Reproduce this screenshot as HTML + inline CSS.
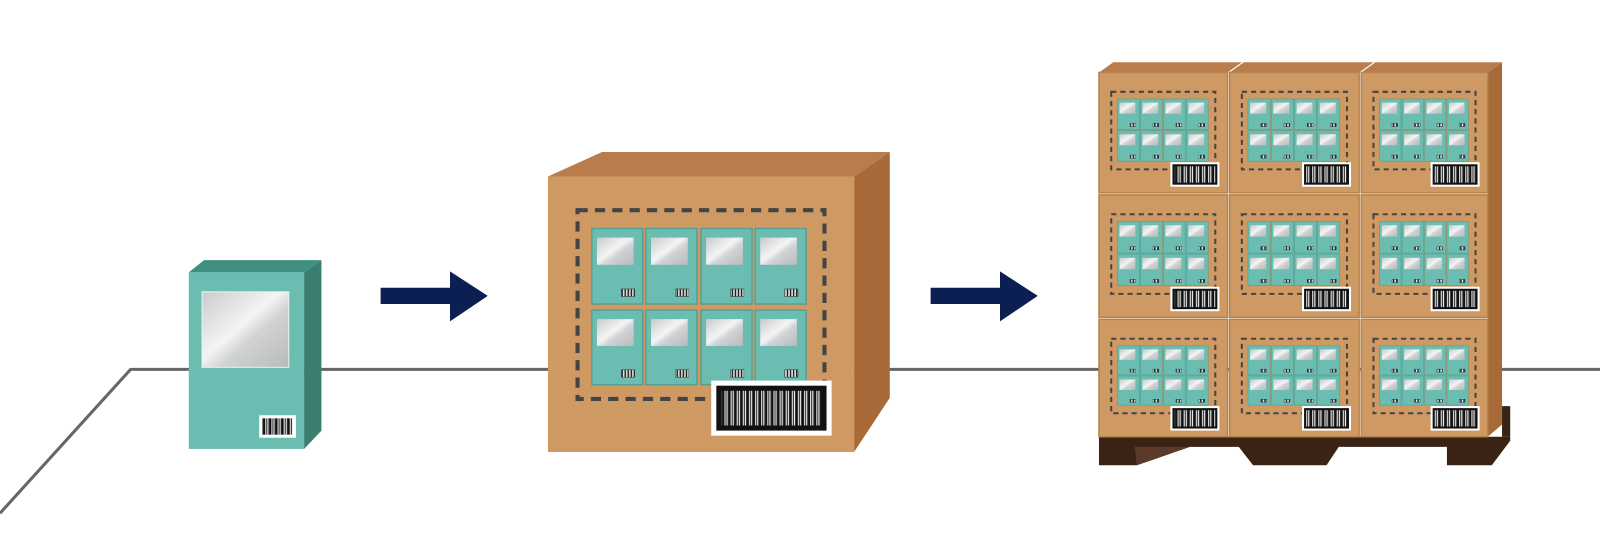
<!DOCTYPE html>
<html><head><meta charset="utf-8"><style>html,body{margin:0;padding:0;background:#fff;width:1600px;height:552px;overflow:hidden}</style></head>
<body>
<svg id="s" width="1600" height="552" viewBox="0 0 1568 541" preserveAspectRatio="none" xmlns="http://www.w3.org/2000/svg">
<defs>
<linearGradient id="sil" x1="0" y1="0" x2="1" y2="1">
<stop offset="0" stop-color="#c9cbcc"/><stop offset="0.45" stop-color="#f4f4f4"/><stop offset="0.6" stop-color="#d0d2d3"/><stop offset="1" stop-color="#b8babb"/>
</linearGradient>
<pattern id="bc" width="6" height="10" patternUnits="userSpaceOnUse">
<rect width="6" height="10" fill="#fff"/><rect x="0" width="2" height="10" fill="#111"/><rect x="3" width="1" height="10" fill="#111"/><rect x="5" width="1" height="10" fill="#333"/>
</pattern>
<pattern id="bcs" width="3" height="10" patternUnits="userSpaceOnUse">
<rect width="3" height="10" fill="#eee"/><rect x="0" width="1.5" height="10" fill="#222"/>
</pattern>
</defs>
<polyline points="0,503 128,362 1600,362" fill="none" stroke="#666" stroke-width="3"/>
<!-- single box -->
<polygon points="185,267 200,255 315,255 298,267" fill="#3f9080"/>
<polygon points="298,267 315,255 315,422 298,440" fill="#3a7f70"/>
<rect x="185" y="267" width="113" height="173" fill="#6bbdb1"/>
<rect x="198" y="286" width="85" height="74" fill="url(#sil)" stroke="#e8f4f2" stroke-width="1"/>
<rect x="254" y="407" width="36" height="22" fill="#fff"/>
<rect x="257" y="410" width="30" height="16" fill="url(#bc)"/>
<!-- arrows -->
<polygon points="373,282 441,282 441,266 478,290 441,315 441,298 373,298" fill="#0b1f52"/>
<polygon points="912,282 980,282 980,266 1017,290 980,315 980,298 912,298" fill="#0b1f52"/>
<!-- big box -->
<polygon points="537,173 590,149 872,149 837,173" fill="#b97c4c"/>
<polygon points="837,173 872,149 872,390 837,443" fill="#a86a38"/>
<rect x="537" y="173" width="300" height="270" fill="#cf9963"/>
<g id="big"></g>
<!-- pallet -->
<polygon points="1077,428 1480,428 1480,398 1472,398 1472,428" fill="#3a2314"/>
<polygon points="1077,428 1480,428 1480,432 1462,456 1418,456 1418,438 1312,438 1300,456 1228,456 1214,438 1166,438 1114,456 1077,456" fill="#3a2314"/>
<polygon points="1112,438 1166,438 1114,456" fill="#5b3a2a"/>
<g id="pal"></g>
</svg>
<script>
var NS="http://www.w3.org/2000/svg";
function el(p,t,a){var e=document.createElementNS(NS,t);for(var k in a)e.setAttribute(k,a[k]);p.appendChild(e);return e;}
function mini(g,x,y,w,h){
 el(g,"rect",{x:x,y:y,width:w,height:h,fill:"#6bbdb1",stroke:"#4f9c90","stroke-width":Math.max(0.5,w/40)});
 el(g,"rect",{x:x+w*0.1,y:y+h*0.12,width:w*0.72,height:h*0.36,fill:"url(#sil)"});
 el(g,"rect",{x:x+w*0.58,y:y+h*0.8,width:w*0.26,height:h*0.1,fill:"url(#bcs)",stroke:"#333","stroke-width":0.5});
}
function label(g,x,y,w,h,b){
 el(g,"rect",{x:x,y:y,width:w,height:h,fill:"#fff"});
 el(g,"rect",{x:x+b,y:y+b,width:w-2*b,height:h-2*b,fill:"#111"});
 el(g,"rect",{x:x+b*2,y:y+b*2,width:w-4*b,height:h-4*b,fill:"url(#bc)"});
}
var g=document.getElementById("big");
el(g,"rect",{x:566,y:206,width:242,height:185,fill:"none",stroke:"#444","stroke-width":4,"stroke-dasharray":"10,7"});
var xs=[580,633,687,740];
for(var r=0;r<2;r++)for(var c=0;c<4;c++)mini(g,xs[c],r?304:224,50,r?73:74);
label(g,697,373,118,54,5);
var p=document.getElementById("pal");
var cols=[[1077,126],[1205,127],[1334,124]];
var rows=[[71,118],[191,120],[313,115]];
for(var c=0;c<3;c++){var X=cols[c][0],W=cols[c][1];
 el(p,"polygon",{points:(X)+",71 "+(X+14)+",61 "+(X+W+14)+",61 "+(X+W)+",71",fill:"#b97c4c"});}
el(p,"polygon",{points:"1458,71 1472,61 1472,416 1458,428",fill:"#a86a38"});
for(var r=0;r<3;r++)for(var c=0;c<3;c++){
 var X=cols[c][0],W=cols[c][1],Y=rows[r][0],H=rows[r][1];
 el(p,"rect",{x:X,y:Y,width:W,height:H,fill:"#cf9963",stroke:"#b8834f","stroke-width":1.5});
 var dx=X+12,dy=Y+19,dw=W-24,dh=H-42;
 el(p,"rect",{x:dx,y:dy,width:dw,height:dh,fill:"none",stroke:"#444","stroke-width":2,"stroke-dasharray":"5,4"});
 var mx=dx+6,my=dy+7,mw=(dw-12)/4,mh=(dh-14)/2;
 for(var i=0;i<2;i++)for(var j=0;j<4;j++)mini(p,mx+j*mw,my+i*mh,mw-1,mh-1);
 label(p,X+W-56,Y+H-30,48,24,2);
}
</script>
</body></html>
